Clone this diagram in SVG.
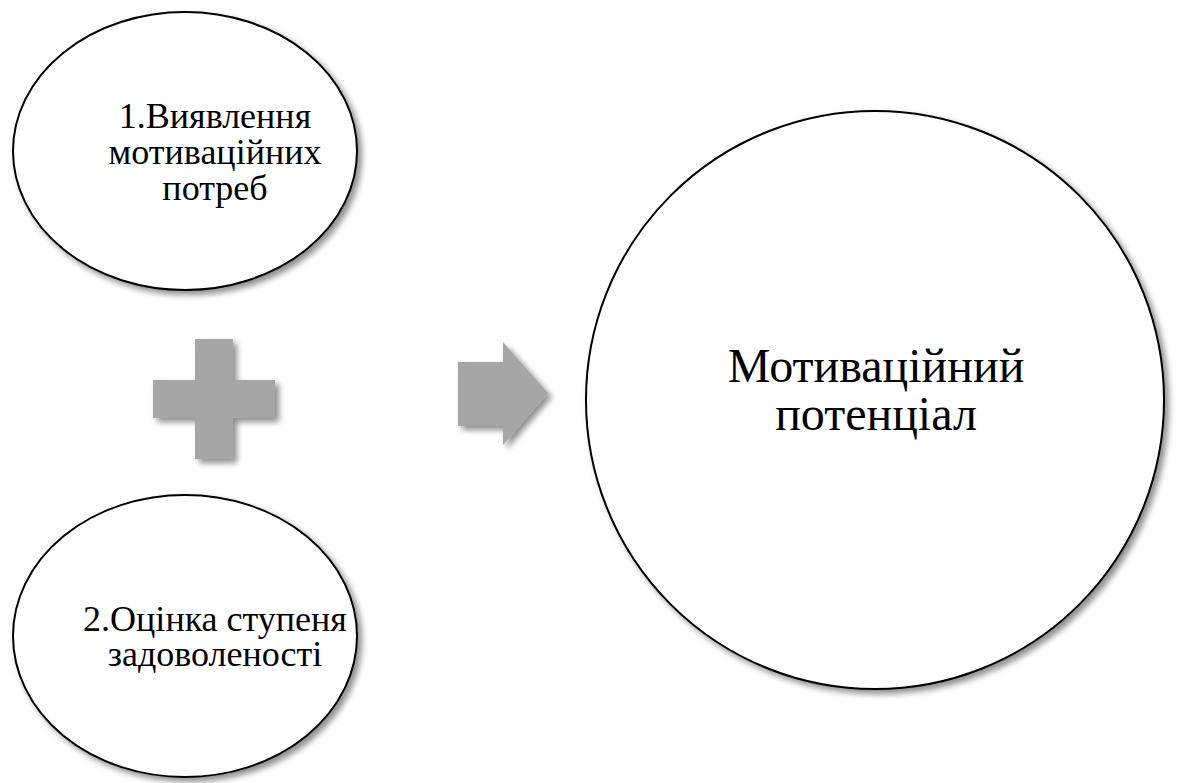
<svg xmlns="http://www.w3.org/2000/svg" width="1178" height="783" viewBox="0 0 1178 783">
<style>
.node{fill:#ffffff;stroke:#000000;stroke-width:2}
text{font-family:'Liberation Serif','Times New Roman',Times,serif;fill:#000000;text-anchor:middle}
.s{font-size:36px}
.b{font-size:48px}
.g{fill:#a6a6a6}
</style>
<defs>
<filter id="sh" x="-20%" y="-20%" width="140%" height="140%">
<feGaussianBlur in="SourceAlpha" stdDeviation="3"/>
<feOffset dx="4" dy="4" result="o"/>
<feComponentTransfer><feFuncA type="linear" slope="0.45"/></feComponentTransfer>
<feMerge><feMergeNode/><feMergeNode in="SourceGraphic"/></feMerge>
</filter>
</defs>
<rect width="1178" height="783" fill="#ffffff"/>
<g id="node1">
<ellipse class="node" cx="185" cy="151" rx="172" ry="139" filter="url(#sh)"/>
<text class="s" x="215" y="128">1.Виявлення</text>
<text class="s" x="215" y="164">мотиваційних</text>
<text class="s" x="215" y="200">потреб</text>
</g>
<g id="node2">
<ellipse class="node" cx="185" cy="636" rx="172" ry="141" filter="url(#sh)"/>
<text class="s" x="215" y="631">2.Оцінка ступеня</text>
<text class="s" x="215" y="666">задоволеності</text>
</g>
<g id="node3">
<circle class="node" cx="875" cy="400" r="289" filter="url(#sh)"/>
<text class="b" x="876" y="382">Мотиваційний</text>
<text class="b" x="876" y="430">потенціал</text>
</g>
<g id="connectors">
<path id="plus" class="g" filter="url(#sh)" d="M195 339 H233 V380 H275 V418 H233 V459 H195 V418 H153 V380 H195 Z"/>
<path id="arrow" class="g" filter="url(#sh)" d="M458 362 H503 V342 L548 393 L503 445 V426 H458 Z"/>
</g>
</svg>
